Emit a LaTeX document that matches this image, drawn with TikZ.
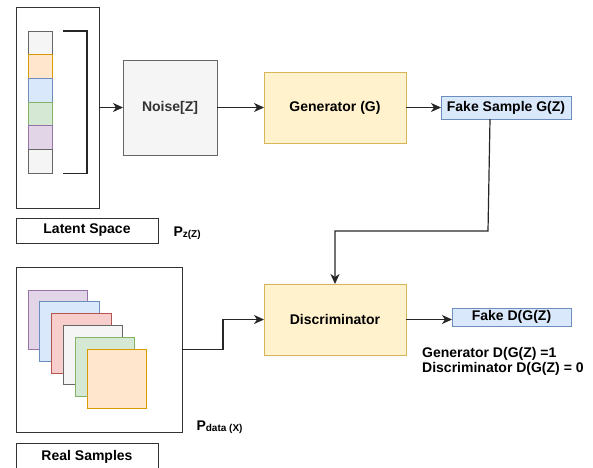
\documentclass[tikz,border=0pt]{standalone}
\usepackage{fontspec}
\setmainfont{Liberation Sans}
\usepackage{xcolor}
\definecolor{grayF}{HTML}{F5F5F5}
\definecolor{grayD}{HTML}{666666}
\definecolor{orF}{HTML}{FFE6CC}
\definecolor{orD}{HTML}{D79B00}
\definecolor{blF}{HTML}{DAE8FC}
\definecolor{blD}{HTML}{6C8EBF}
\definecolor{grF}{HTML}{D5E8D4}
\definecolor{grD}{HTML}{82B366}
\definecolor{puF}{HTML}{E1D5E7}
\definecolor{puD}{HTML}{9673A6}
\definecolor{reF}{HTML}{F8CECC}
\definecolor{reD}{HTML}{B85450}
\definecolor{yeF}{HTML}{FFF2CC}
\definecolor{yeD}{HTML}{D6B656}
\usetikzlibrary{arrows.meta}

\tikzset{
  cell/.style={draw=#1D,fill=#1F,line width=1pt,inner sep=0pt,outer sep=0pt},
  frame/.style={draw=black!80,line width=1pt,inner sep=0pt,outer sep=0pt},
  arr/.style={-{Stealth[length=10pt,width=9pt,inset=3pt]},line width=1.2pt,black!85},
}

\begin{document}
\begin{tikzpicture}[x=1pt,y=-1pt,font=\fontsize{14}{15.5}\selectfont\bfseries]
  \useasboundingbox (0,0) rectangle (593,467);

  % latent vector
  \node[frame,minimum width=83,minimum height=201] (latent) at (57.5,107.5) {};
  \foreach \c [count=\i] in {gray,or,bl,gr,pu,gray}
    \node[cell=\c,minimum width=24,minimum height=23.7] (cell\i) at (40,31+23.7*\i-11.85) {};
  \draw[line width=1.2pt,black!85] ([xshift=11pt]cell1.north east) -- ++(24,0)
    |- ([xshift=11pt]cell6.south east);
  \node[frame,minimum width=142,minimum height=25] (latentlbl) at (87,230.5) {Latent Space};
  \node[anchor=west] (pz) at (170,233) {P\raisebox{-1.5pt}{\fontsize{10}{12}\selectfont z(Z)}};

  \node[cell=gray,minimum width=94,minimum height=95,text=black!80] (noise) at (170,107.5) {Noise[Z]};
  \node[cell=ye,minimum width=142,minimum height=71] (gen) at (335,107.5) {Generator (G)};
  \node[cell=bl,minimum width=130,minimum height=23] (fake) at (506,107.5) {Fake Sample G(Z)};

  \draw[arr] (latent) -- (noise);
  \draw[arr] (noise) -- (gen);
  \draw[arr] (gen) -- (fake);

  % real images
  \node[frame,minimum width=166,minimum height=165] (real) at (99,349.5) {};
  \foreach \c [count=\i from 0] in {pu,bl,re,gray,gr,or}
    \node[cell=\c,anchor=north west,minimum size=59.5] (img\i) at (28+11.8*\i,290+11.8*\i) {};
  \node[frame,minimum width=142,minimum height=27] (reallbl) at (87,456.5) {Real Samples};
  \node[anchor=west] (pdata) at (193,427) {P\raisebox{-1pt}{\fontsize{10}{12}\selectfont data (X)}};

  \node[cell=ye,minimum width=142,minimum height=71] (disc) at (335,319.5) {Discriminator};
  \node[cell=bl,minimum width=119,minimum height=18] (fakeD) at (511.5,317) {Fake D(G(Z)};
  \node[anchor=north west,align=left,inner sep=0pt] (result) at (422,347)
    {Generator D(G(Z) =1\\Discriminator D(G(Z) = 0};

  \draw[arr] ([xshift=-16pt]fake.south) -- ++(-2,112) -| (disc.north);
  \draw[arr] (real.east) -- ++(41,0) |- (disc.west);
  \draw[arr] (disc.east) -- (disc.east -| fakeD.west);
\end{tikzpicture}
\end{document}
